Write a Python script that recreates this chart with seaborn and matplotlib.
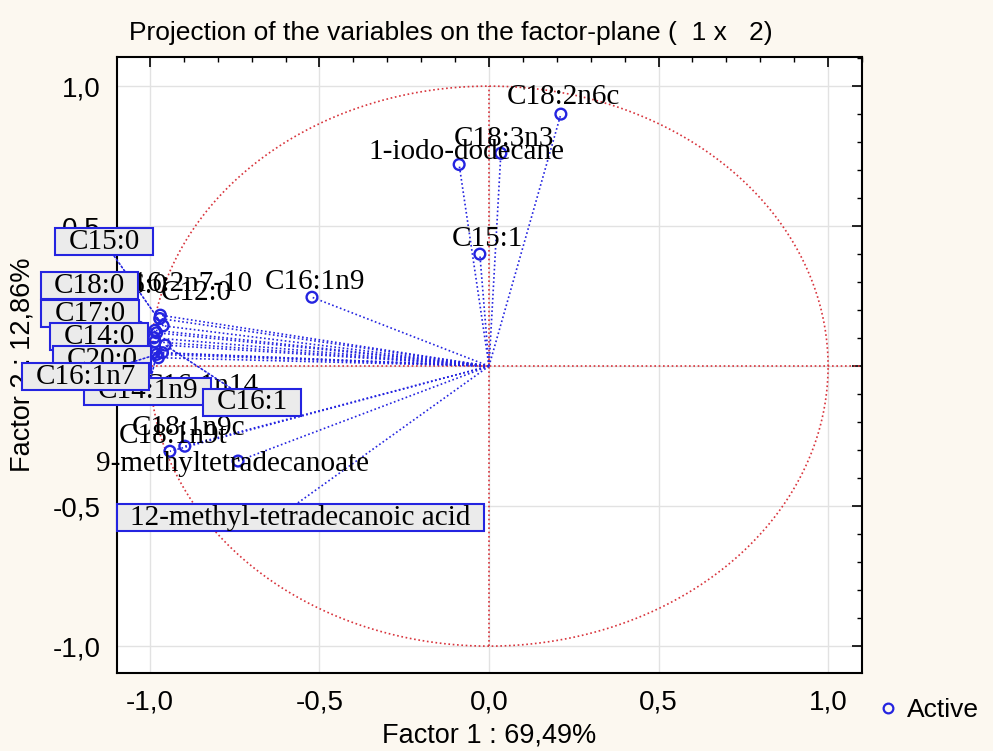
import numpy as np
import pandas as pd
import matplotlib
matplotlib.use("Agg")
import matplotlib.pyplot as plt
from matplotlib.lines import Line2D
from matplotlib.ticker import MultipleLocator, FuncFormatter
import seaborn as sns

# ---------------- data ----------------
variables = [
    "C18:2n6c", "C18:3n3", "1-iodo-dodecane", "C15:1", "C16:1n9",
    "C12:0", "C16:2n7-10", "C15:0", "C16:0", "C18:0", "C17:0", "C14:0",
    "C20:0", "C16:1n7", "C14:1n9", "C16:1n14", "C16:1",
    "C18:1n9c", "C18:1n9t", "9-methyltetradecanoate",
    "12-methyl-tetradecanoic acid",
]
factor1 = [
    0.212, 0.035, -0.088, -0.027, -0.522,
    -0.969, -0.971, -0.961, -0.985, -0.980, -0.988, -0.985,
    -0.988, -0.963, -0.980, -0.975, -0.955,
    -0.897, -0.941, -0.740,
    -0.600,
]
factor2 = [
    0.900, 0.760, 0.720, 0.400, 0.246,
    0.182, 0.170, 0.144, 0.128, 0.119, 0.101, 0.087,
    0.048, 0.048, 0.042, 0.030, 0.075,
    -0.286, -0.304, -0.339,
    -0.520,
]
boxed_labels = ["C15:0", "C18:0", "C17:0", "C14:0", "C20:0", "C16:1n7",
                "C14:1n9", "C16:1", "12-methyl-tetradecanoic acid"]

title_text = "Projection of the variables on the factor-plane (  1 x   2)"
xlabel_text = "Factor 1 : 69,49%"
ylabel_text = "Factor 2 : 12,86%"
legend_text = "Active"

# ---------------- layout (label offsets in pixels) ----------------
label_offsets = {
    "C18:2n6c": (3, 20), "C18:3n3": (3, 17), "1-iodo-dodecane": (7, 16),
    "C15:1": (8, 18), "C16:1n9": (3, 18), "C12:0": (36, 25),
    "C16:2n7-10": (24, 38), "C15:0": (-59, 84), "C16:0": (-23, 47),
    "C18:0": (-67, 47), "C17:0": (-64, 24), "C14:0": (-56, 5),
    "C20:0": (-52, -7), "C16:1n7": (-77, -24), "C14:1n9": (-9, -37),
    "C16:1n14": (43, -25), "C16:1": (87, -57),
    "C18:1n9c": (4, 21), "C18:1n9t": (3, 18),
    "9-methyltetradecanoate": (-6, 0),
    "12-methyl-tetradecanoic acid": (15, -6),
}
draw_order = [
    "C18:2n6c", "C18:3n3", "1-iodo-dodecane", "C15:1", "C16:1n9",
    "C16:0", "C16:2n7-10", "C12:0", "C16:1n14",
    "C18:1n9c", "C18:1n9t", "9-methyltetradecanoate",
    "C15:0", "C18:0", "C17:0", "C14:0", "C20:0", "C14:1n9", "C16:1n7",
    "C16:1", "12-methyl-tetradecanoic acid",
]

BLUE = "#2424E0"
RED = "#D8343C"
BG = "#FCF8F0"
LABEL_FS = 21

df = pd.DataFrame({"variable": variables, "f1": factor1, "f2": factor2})

sns.set_theme(style="white")
plt.rcParams["font.family"] = ["Liberation Sans", "DejaVu Sans"]
plt.rcParams["text.color"] = "black"
plt.rcParams["axes.labelcolor"] = "black"
plt.rcParams["xtick.color"] = "black"
plt.rcParams["ytick.color"] = "black"

fig = plt.figure(figsize=(9.93, 7.51), dpi=100, facecolor=BG)
ax = fig.add_axes([117 / 993, 1 - 673 / 751, 745 / 993, 616 / 751])
ax.set_facecolor("white")
ax.set_xlim(-1.097, 1.100)
ax.set_ylim(-1.096, 1.104)

# grid
ax.set_axisbelow(True)
ax.xaxis.set_major_locator(MultipleLocator(0.5))
ax.yaxis.set_major_locator(MultipleLocator(0.5))
ax.xaxis.set_minor_locator(MultipleLocator(0.1))
ax.yaxis.set_minor_locator(MultipleLocator(0.1))
ax.grid(True, which="major", color="#E2E2E2", lw=1.0)

# unit circle and red axes
theta = np.linspace(0, 2 * np.pi, 500)
ax.plot(np.cos(theta), np.sin(theta), color=RED, lw=1.2, ls=(0, (1, 1.6)), zorder=2)
ax.axhline(0, color=RED, lw=1.2, ls=(0, (1, 1.6)), zorder=2)
ax.plot([0, 0], [-1, 1], color=RED, lw=1.2, ls=(0, (1, 1.6)), zorder=2)

# vectors from origin
for x, y in zip(df["f1"], df["f2"]):
    ax.plot([0, x], [0, y], color=BLUE, lw=1.2, ls=(0, (1, 1.5)), zorder=3)

# points
sns.scatterplot(data=df, x="f1", y="f2", ax=ax, marker="o", s=60,
                color=BLUE, linewidth=1.7, zorder=4, legend=False)
coll = ax.collections[-1]
coll.set_facecolor("none")
coll.set_edgecolor(BLUE)

# labels
pos = {v: (a, b) for v, a, b in zip(variables, factor1, factor2)}
for name in draw_order:
    x, y = pos[name]
    off = label_offsets[name]
    if name in boxed_labels:
        ax.annotate(name, xy=(x, y), xytext=off, textcoords="offset pixels",
                    ha="center", va="center", fontsize=LABEL_FS,
                    family=["Liberation Serif", "DejaVu Serif"], color="black",
                    bbox=dict(boxstyle="square,pad=0.45", fc="#EBEBEB", ec=BLUE,
                              lw=1.5, mutation_aspect=0.04),
                    arrowprops=dict(arrowstyle="-", color=BLUE, lw=1.2,
                                    ls=(0, (1, 1.5)), shrinkA=0, shrinkB=0),
                    annotation_clip=False, zorder=6)
    else:
        ax.annotate(name, xy=(x, y), xytext=off, textcoords="offset pixels",
                    ha="center", va="center_baseline", fontsize=LABEL_FS,
                    family=["Liberation Serif", "DejaVu Serif"], color="black",
                    annotation_clip=False, zorder=5)

# ticks
fmt = FuncFormatter(lambda v, p: ("0,0" if abs(v) < 1e-9 else f"{v:.1f}".replace(".", ",")))
ax.xaxis.set_major_formatter(fmt)
ax.yaxis.set_major_formatter(fmt)
ax.tick_params(which="both", direction="in", top=True, right=True, colors="black")
ax.tick_params(which="major", length=7, width=1.2, labelsize=20, pad=12)
ax.tick_params(which="minor", length=3.5, width=1.0)
for sp in ax.spines.values():
    sp.set_color("black")
    sp.set_linewidth(1.5)

ax.set_xlabel(xlabel_text, fontsize=19.5, color="black")
ax.set_ylabel(ylabel_text, fontsize=19.5, color="black")
ax.xaxis.set_label_coords(0.5, -0.080)
ax.yaxis.set_label_coords(-0.110, 0.5)

fig.text(451 / 993, 1 - 33 / 751, title_text, ha="center", va="center",
         fontsize=19, color="black")

handle = Line2D([], [], marker="o", ls="", mfc="none", mec=BLUE, ms=7, mew=1.6)
ax.legend([handle], [legend_text], loc="center left",
          bbox_to_anchor=(875 / 993, 1 - 710 / 751), bbox_transform=fig.transFigure,
          frameon=False, fontsize=19, handlelength=1.0, handletextpad=0.2,
          borderpad=0, borderaxespad=0, labelcolor="black")

fig.savefig("out.png", dpi=100, facecolor=BG)
